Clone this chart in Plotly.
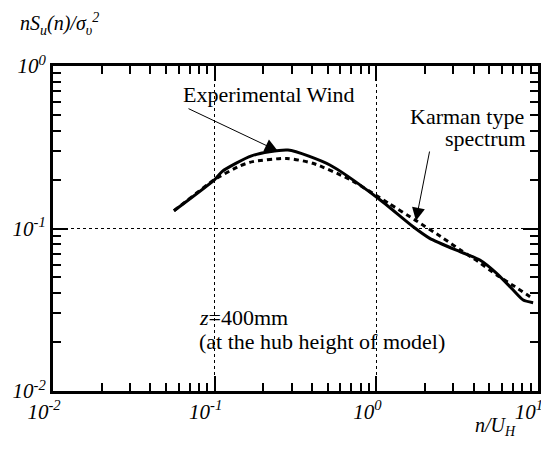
import plotly.graph_objects as go

# Experimental wind spectrum (solid)
x_exp = [0.056, 0.1, 0.111, 0.169, 0.284, 0.516, 1.03, 1.69, 2.14, 3.29, 4.37, 5.55, 6.87, 8.1, 9.33]
y_exp = [0.1285, 0.2, 0.224, 0.28, 0.304, 0.246, 0.153, 0.1025, 0.087, 0.072, 0.064, 0.053, 0.0428, 0.0363, 0.0349]

# Karman type spectrum (dotted)
x_kar = [0.056, 0.1, 0.1435, 0.172, 0.279, 0.405, 0.687, 1.19, 1.73, 2.6, 3.29, 4.27, 5.55, 7.19, 9.33]
y_kar = [0.1285, 0.2, 0.243, 0.258, 0.270, 0.252, 0.2, 0.143, 0.113, 0.087, 0.074, 0.0625, 0.0518, 0.0439, 0.037]

x_major = [0.01, 0.1, 1, 10]
x_labels = ["<i>10<sup>-2</sup></i>", "<i>10<sup>-1</sup></i>", "<i>10<sup>0</sup></i>", "<i>10<sup>1</sup></i>"]
y_major = [0.01, 0.1, 1]
y_labels = ["<i>10<sup>-2</sup></i>", "<i>10<sup>-1</sup></i>", "<i>10<sup>0</sup></i>"]

x_minor = [m * d for d in [0.01, 0.1, 1] for m in range(2, 10)]
y_minor = [m * d for d in [0.01, 0.1] for m in range(2, 10)]

FONT = "Liberation Serif, Times New Roman, serif"

fig = go.Figure()
fig.add_trace(go.Scatter(x=x_kar, y=y_kar, mode="lines",
                         line=dict(color="black", width=3, dash="5px,4px", shape="spline", smoothing=0.6),
                         showlegend=False))
fig.add_trace(go.Scatter(x=x_exp, y=y_exp, mode="lines",
                         line=dict(color="black", width=3, shape="spline", smoothing=0.6),
                         showlegend=False))

axis_common = dict(
    type="log", showline=True, linecolor="black", linewidth=3, mirror="ticks",
    ticks="inside", ticklen=15, tickwidth=2, tickcolor="black",
    showgrid=True, gridcolor="black", griddash="dot", gridwidth=1,
    zeroline=False, tickmode="array", automargin=False, ticklabeloverflow="allow",
    tickfont=dict(family=FONT, size=21, color="black"),
)

fig.update_xaxes(**axis_common, range=[-2, 1], tickvals=x_major, ticktext=x_labels,
                 ticklabelshift=-9,
                 minor=dict(tickvals=x_minor, ticks="inside", ticklen=8, tickwidth=2,
                            tickcolor="black", showgrid=False))
fig.update_yaxes(**axis_common, range=[-2, 0], tickvals=y_major, ticktext=y_labels,
                 minor=dict(tickvals=y_minor, ticks="inside", ticklen=8, tickwidth=2,
                            tickcolor="black", showgrid=False))

ann_font = dict(family=FONT, size=22, color="black")
arrow = dict(showarrow=True, arrowhead=2, arrowsize=2.6, arrowwidth=1, arrowcolor="black",
             xref="x", yref="y", axref="x", ayref="y", text="")

annotations = [
    dict(x=-0.664, y=-0.178, xref="x", yref="y", text="Experimental Wind",
         showarrow=False, font=ann_font, xanchor="center", yanchor="middle"),
    dict(x=-0.609, y=-0.523, ax=-1.171, ay=-0.258, **arrow),
    dict(x=0.195, y=-0.308, xref="x", yref="y", text="Karman type",
         showarrow=False, font=ann_font, xanchor="left", yanchor="middle"),
    dict(x=0.412, y=-0.449, xref="x", yref="y", text="spectrum",
         showarrow=False, font=ann_font, xanchor="left", yanchor="middle"),
    dict(x=0.245, y=-0.952, ax=0.331, ay=-0.517, **arrow),
    dict(x=-1.109, y=-1.545, xref="x", yref="y", text="<i>z</i>=400mm",
         showarrow=False, font=ann_font, xanchor="left", yanchor="middle"),
    dict(x=-1.109, y=-1.698, xref="x", yref="y", text="(at the hub height of model)",
         showarrow=False, font=ann_font, xanchor="left", yanchor="middle"),
    dict(x=-0.072, y=1.13, xref="paper", yref="paper",
         text="<i>nS<sub>u</sub>(n)/σ<sub>υ</sub><sup>2</sup></i>",
         showarrow=False, font=dict(family=FONT, size=20, color="black"),
         xanchor="left", yanchor="middle"),
    dict(x=0.959, y=-0.065, xref="paper", yref="paper",
         text="<i>n/U<sub>H</sub></i>",
         showarrow=False, font=dict(family=FONT, size=20, color="black"),
         xanchor="right", yanchor="top"),
]

# The page adds an 8px body margin, so the figure is sized/margined to compensate.
fig.update_layout(
    width=541, height=449,
    margin=dict(l=45, r=11, t=58, b=66),
    plot_bgcolor="white", paper_bgcolor="white",
    font=dict(family=FONT),
    annotations=annotations,
    showlegend=False,
)

fig.write_html("out.html")
